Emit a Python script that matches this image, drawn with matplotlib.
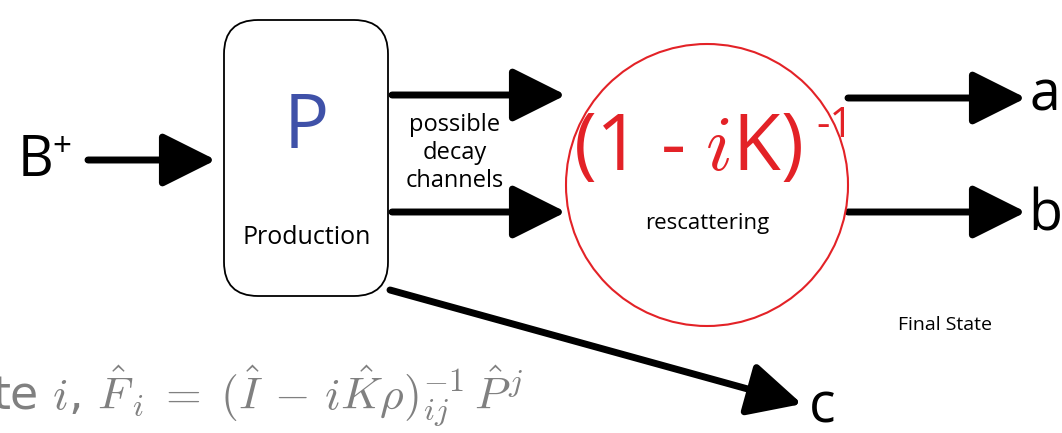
import matplotlib.pyplot as plt
from matplotlib.patches import FancyBboxPatch, Circle, FancyArrowPatch

plt.rcParams['mathtext.fontset'] = 'cm'

# arrows: (x0, y0, x1, y1) in pixel coords of the picture
arrows = [(88, 160, 216, 160),
          (392, 95, 566, 95),
          (392, 212, 566, 212),
          (848, 98, 1026, 98),
          (848, 212, 1026, 212),
          (390, 290, 802, 404)]
outputs = ['a', 'b', 'c']
output_pos = [(1045, 96), (1045, 216), (822, 408)]

fig = plt.figure(figsize=(10.62, 4.33), dpi=100)
ax = fig.add_axes([0, 0, 1, 1])
ax.set_xlim(0, 1062)
ax.set_ylim(433, 0)
ax.axis('off')

for x0, y0, x1, y1 in arrows:
    ax.add_patch(FancyArrowPatch((x0, y0), (x1, y1), arrowstyle='-|>,head_length=1.5,head_width=0.75',
                                 mutation_scale=22, lw=5, color='black', shrinkA=0, shrinkB=0))

ax.add_patch(FancyBboxPatch((224, 20), 164, 276, boxstyle='round,pad=0,rounding_size=34',
                            fc='white', ec='black', lw=1.3, zorder=3))
ax.add_patch(Circle((707, 185), 141, fc='white', ec='#e32227', lw=1.5, zorder=3))

ax.text(18, 162, 'B', fontsize=40, va='center', ha='left', family='Open Sans')
ax.text(52, 148, '+', fontsize=24, va='center', ha='left', family='Open Sans')
ax.text(306, 128, 'P', fontsize=54, color='#3f51a8', ha='center', va='center', zorder=4, family='Open Sans')
ax.text(307, 237, 'Production', fontsize=18, ha='center', va='center', zorder=4, family='Open Sans')
ax.text(455, 153, 'possible\ndecay\nchannels', fontsize=17, ha='center', va='center',
        linespacing=1.2, family='Open Sans')
ax.text(688, 150, r'(1 - $\mathit{i}$K)', fontsize=56, color='#e32227',
        ha='center', va='center', zorder=4, family='Open Sans')
ax.text(816, 126, '-1', fontsize=30, color='#e32227', ha='left', va='center', zorder=4, family='Open Sans')
ax.text(707, 223, 'rescattering', fontsize=16, ha='center', va='center', zorder=4, family='Open Sans')
for s, (x, y) in zip(outputs, output_pos):
    ax.text(x, y, s, fontsize=40, ha='center', va='center', family='Open Sans')
ax.text(945, 325, 'Final State', fontsize=14, ha='center', va='center', family='Open Sans')
ax.text(-8, 396, r'te $i$, $\hat F_i \;=\; (\hat I \,-\, i\hat K\rho)^{-1}_{ij}\,\hat P^j$', fontsize=33,
        color='#808080', ha='left', va='center')

fig.savefig('out.png', dpi=100)
